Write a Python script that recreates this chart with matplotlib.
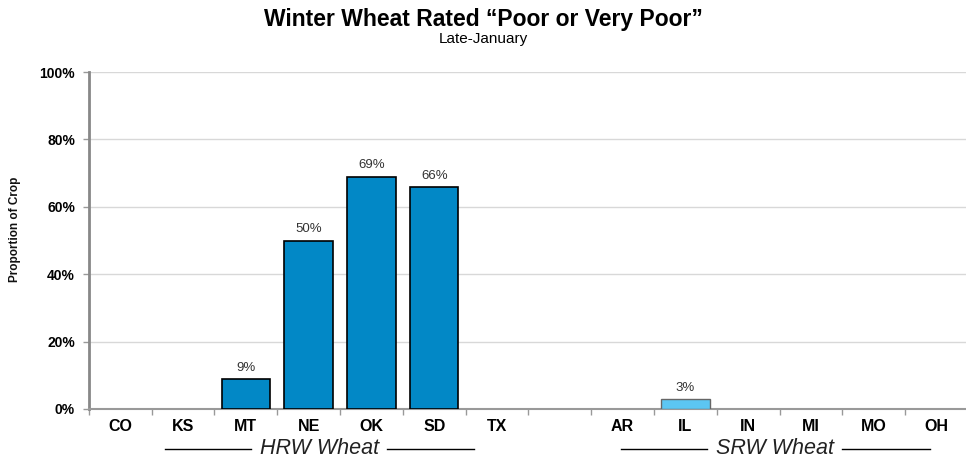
import numpy as np
import matplotlib.pyplot as plt
from matplotlib.ticker import PercentFormatter

plt.rcParams['font.family'] = ['Liberation Sans', 'DejaVu Sans']

states = ['CO', 'KS', 'MT', 'NE', 'OK', 'SD', 'TX', '', 'AR', 'IL', 'IN', 'MI', 'MO', 'OH']
values = [0, 0, 9, 50, 69, 66, 0, 0, 0, 3, 0, 0, 0, 0]
labels = ['', '', '9%', '50%', '69%', '66%', '', '', '', '3%', '', '', '', '']
hrw = ['CO', 'KS', 'MT', 'NE', 'OK', 'SD', 'TX']
srw = ['AR', 'IL', 'IN', 'MI', 'MO', 'OH']

fig = plt.figure(figsize=(9.66, 4.59), dpi=100)
ax = fig.add_axes([0.092, 0.109, 0.91, 0.734])

x = np.arange(len(states))
for i, s in enumerate(states):
    if values[i] == 0:
        continue
    if s in hrw:
        ax.bar(x[i], values[i], width=0.77, color='#0288C6', edgecolor='black', linewidth=1.2, zorder=3)
    else:
        ax.bar(x[i], values[i], width=0.77, color='#5CC6F2', edgecolor='#666666', linewidth=1, zorder=3)
    ax.text(x[i], values[i] + 1.5, labels[i], ha='center', va='bottom', fontsize=9.5, color='#333333')

ax.set_xlim(-0.5, len(states) - 0.5)
ax.set_ylim(0, 100)
ax.set_yticks(range(0, 101, 20))
ax.yaxis.set_major_formatter(PercentFormatter(decimals=0))
ax.grid(axis='y', color='#d8d8d8', linewidth=1, zorder=0)

ax.set_xticks(x)
ax.set_xticklabels(states, fontsize=11.5, fontweight='bold')
ax.set_xticks(np.arange(-0.5, len(states), 1), minor=True)
ax.tick_params(axis='x', which='major', length=0, pad=7)
ax.tick_params(axis='x', which='minor', length=4, color='#999999', width=1)
ax.tick_params(axis='y', length=4, color='#999999', width=1, labelsize=10, pad=6)
for t in ax.get_yticklabels():
    t.set_fontweight('bold')

for sp in ['top', 'right']:
    ax.spines[sp].set_visible(False)
ax.spines['left'].set_color('#888888')
ax.spines['left'].set_linewidth(2)
ax.spines['bottom'].set_color('#999999')
ax.spines['bottom'].set_linewidth(1.5)

fig.text(15 / 966, 1 - 229 / 459, 'Proportion of Crop', rotation=90, ha='center', va='center',
         fontsize=8.5, fontweight='bold', color='#111111')

fig.text(0.5, 0.958, 'Winter Wheat Rated \u201cPoor or Very Poor\u201d', ha='center', va='center',
         fontsize=16.5, fontweight='bold')
fig.text(0.5, 0.916, 'Late-January', ha='center', va='center', fontsize=11)

# group labels under the axis, with the rules either side
trans = ax.get_xaxis_transform()
gy = -0.118
ax.text(3.18, gy, 'HRW Wheat', ha='center', va='center', fontsize=15.5, style='italic',
        transform=trans, color='#222222')
ax.text(10.43, gy, 'SRW Wheat', ha='center', va='center', fontsize=15.5, style='italic',
        transform=trans, color='#222222')
for x0, x1 in [(0.72, 2.08), (4.25, 5.64), (7.97, 9.35), (11.5, 12.89)]:
    ax.plot([x0, x1], [gy, gy], color='black', lw=1, transform=trans, clip_on=False)

fig.savefig('out.png', dpi=100)
